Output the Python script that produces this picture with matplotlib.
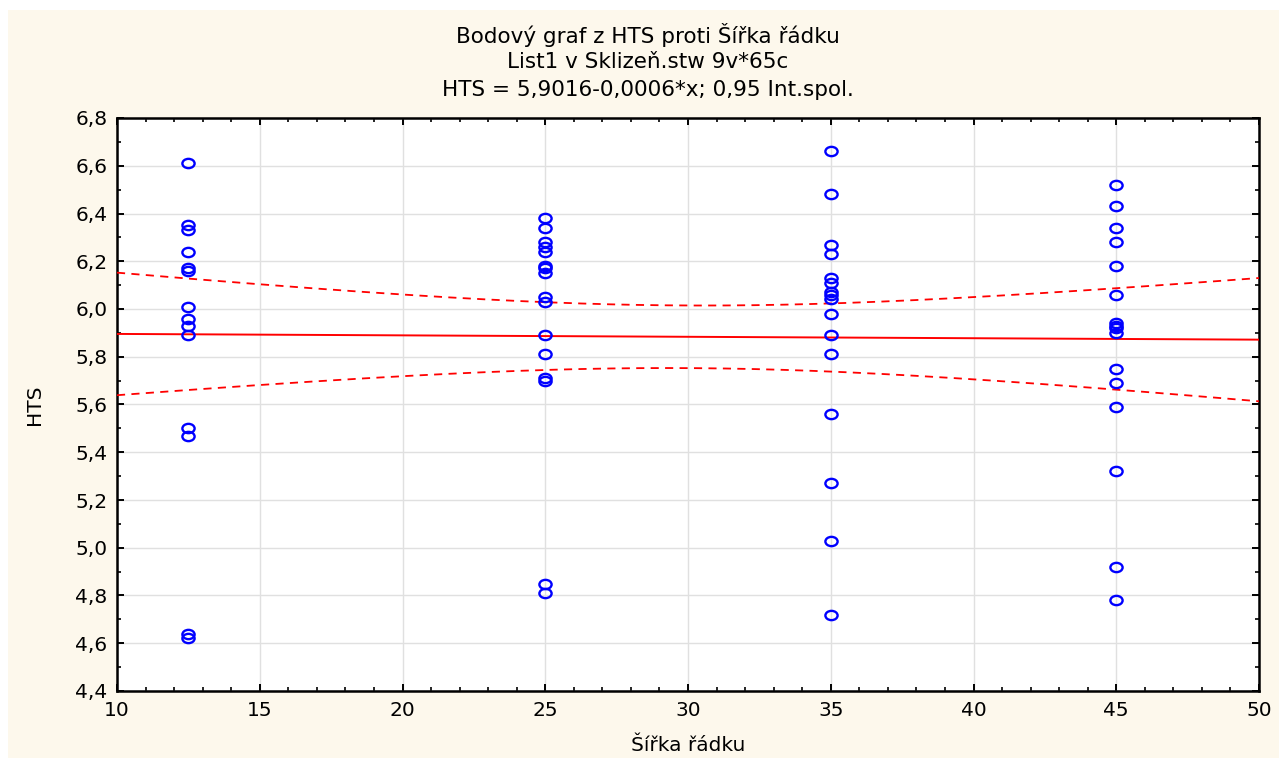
import numpy as np
import matplotlib
matplotlib.use("Agg")
import matplotlib.pyplot as plt
from matplotlib.path import Path
from matplotlib.transforms import Affine2D
from matplotlib.patches import Rectangle
from matplotlib.ticker import MultipleLocator, FuncFormatter

# ---- data ----
x_125 = [12.5] * 14
y_125 = [6.61, 6.35, 6.33, 6.24, 6.17, 6.16, 6.01, 5.96, 5.93, 5.89, 5.50, 5.47, 4.64, 4.62]
x_25 = [25.0] * 16
y_25 = [6.38, 6.34, 6.28, 6.26, 6.24, 6.18, 6.17, 6.15, 6.05, 6.03, 5.89, 5.81, 5.71, 5.70, 4.85, 4.81]
x_35 = [35.0] * 16
y_35 = [6.66, 6.48, 6.27, 6.23, 6.13, 6.11, 6.07, 6.06, 6.04, 5.98, 5.89, 5.81, 5.56, 5.27, 5.03, 4.72]
x_45 = [45.0] * 16
y_45 = [6.52, 6.43, 6.34, 6.28, 6.18, 6.06, 5.94, 5.93, 5.92, 5.90, 5.75, 5.69, 5.59, 5.32, 4.92, 4.78]

# regression coefficients as reported in the title
intercept = 5.9016
slope = -0.0006

title_lines = ["Bodový graf z HTS proti Šířka řádku",
               "List1 v Sklizeň.stw 9v*65c",
               "HTS = 5,9016-0,0006*x; 0,95 Int.spol."]
xlabel = "Šířka řádku"
ylabel = "HTS"

x = np.array(x_125 + x_25 + x_35 + x_45)
y = np.array(y_125 + y_25 + y_35 + y_45)

# 95% confidence band for the mean
n = len(x)
resid = y - (intercept + slope * x)
s = np.sqrt(np.sum(resid ** 2) / (n - 2))
xbar = x.mean()
sxx = np.sum((x - xbar) ** 2)
t_crit = 2.0003  # t(0.975, df=60)
xx = np.linspace(10, 50, 200)
yy = intercept + slope * xx
hw = t_crit * s * np.sqrt(1.0 / n + (xx - xbar) ** 2 / sxx)

plt.rcParams['font.family'] = ['DejaVu Sans']

fig = plt.figure(figsize=(12.79, 7.58), dpi=100, facecolor='white')
fig.patches.append(Rectangle((8 / 1279, 0), 1 - 8 / 1279, 1 - 10 / 758,
                             transform=fig.transFigure, facecolor='#FDF8EC',
                             edgecolor='none', zorder=-10))
ax = fig.add_axes([117 / 1279, 1 - 691 / 758, (1259 - 117) / 1279, (691 - 118) / 758])
ax.set_facecolor('white')

ell = Path.unit_circle().transformed(Affine2D().scale(1.0, 0.76))
ax.plot(x, y, linestyle='none', marker=ell, markersize=8.8, markerfacecolor='none',
        markeredgecolor='#0000FF', markeredgewidth=1.7, zorder=4)

ax.plot(xx, yy, color='#FF0000', lw=1.4, zorder=3)
ax.plot(xx, yy + hw, color='#FF0000', lw=1.3, dashes=(4.5, 3.5), zorder=3)
ax.plot(xx, yy - hw, color='#FF0000', lw=1.3, dashes=(4.5, 3.5), zorder=3)

ax.set_xlim(10, 50)
ax.set_ylim(4.4, 6.8)
ax.xaxis.set_major_locator(MultipleLocator(5))
ax.xaxis.set_minor_locator(MultipleLocator(1))
ax.yaxis.set_major_locator(MultipleLocator(0.2))
ax.yaxis.set_minor_locator(MultipleLocator(0.1))
ax.yaxis.set_major_formatter(FuncFormatter(lambda v, p: f"{v:.1f}".replace('.', ',')))
ax.xaxis.set_major_formatter(FuncFormatter(lambda v, p: f"{v:.0f}"))

ax.grid(True, which='major', color='#E0E0E0', lw=1.0, zorder=0)
ax.set_axisbelow(True)
for sp in ax.spines.values():
    sp.set_linewidth(1.8)
    sp.set_color('black')
ax.tick_params(which='both', direction='in', top=True, right=True, color='black')
ax.tick_params(which='major', length=5, width=1.4, labelsize=14.5, pad=7)
ax.tick_params(which='minor', length=3, width=1.2)

ax.set_xlabel(xlabel, fontsize=14.5, labelpad=12)
ax.set_ylabel(ylabel, fontsize=14.5, labelpad=22)

for i, t in enumerate(title_lines):
    fig.text(648 / 1279, 1 - (35 + 27.5 * i) / 758, t,
             ha='center', va='center', fontsize=15.5)

fig.savefig('out.png', dpi=100, facecolor=fig.get_facecolor())
